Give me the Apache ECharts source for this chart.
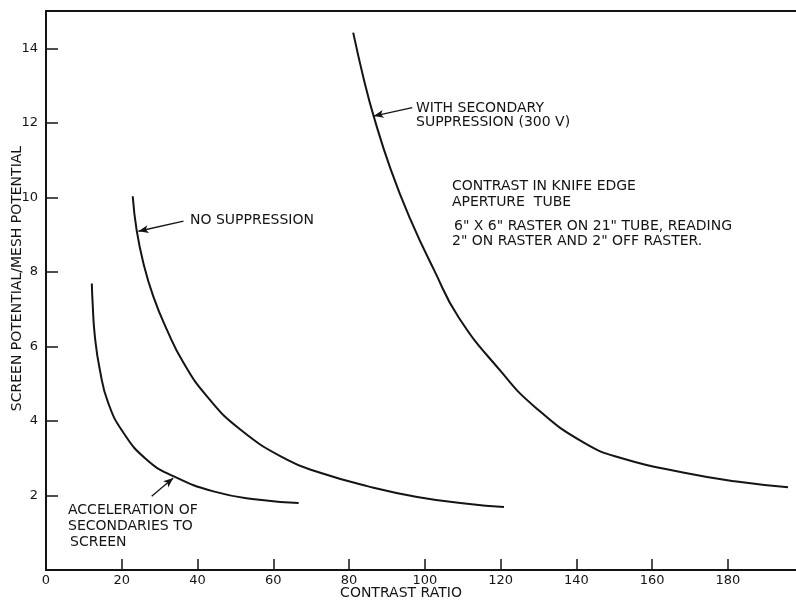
<!DOCTYPE html>
<html>
<head>
<meta charset="utf-8">
<script src="https://cdn.jsdelivr.net/npm/echarts@6/dist/echarts.min.js"></script>
<style>html,body{margin:0;padding:0;background:#fff}#c{width:796px;height:601px}</style>
</head>
<body>
<div id="c"></div>
<script>
// Data
const accelX = [12.1, 12.3, 12.9, 14.2, 16.4, 20.4, 26.6, 33.6, 44.2, 55.7, 66.7];
const accelY = [7.69, 7.18, 6.27, 5.38, 4.49, 3.69, 2.96, 2.52, 2.11, 1.89, 1.80];

const noSupX = [22.9, 23.9, 25.7, 28.3, 31.9, 36.3, 42.5, 51.3, 63.6, 72.4, 84.8, 98.0, 111.2, 120.9];
const noSupY = [10.03, 9.14, 8.24, 7.35, 6.45, 5.56, 4.66, 3.77, 2.96, 2.61, 2.25, 1.96, 1.78, 1.69];

const withSupX = [81.1, 83.9, 86.5, 91.0, 96.2, 102.4, 109.0, 120.1, 128.9, 142.1, 152.7, 168.5, 181.8, 195.9];
const withSupY = [14.42, 13.17, 12.18, 10.75, 9.41, 8.06, 6.77, 5.33, 4.39, 3.41, 2.98, 2.61, 2.38, 2.22];

// annotation arrows (data coords): [fromX, fromY, toX, toY]
const arrowWith = [96.7, 12.41, 86.5, 12.18];
const arrowNo = [36.3, 9.36, 24.4, 9.09];
const arrowAccel = [27.9, 1.98, 33.6, 2.47];

const xTitle = 'CONTRAST RATIO';
const yTitle = 'SCREEN POTENTIAL/MESH POTENTIAL';

const INK = '#141414';
const FONT = '"DejaVu Sans", sans-serif';

function pairs(xs, ys) { return xs.map((x, i) => [x, ys[i]]); }
function arrow(a) {
  return [{ coord: [a[0], a[1]], symbol: 'none' }, { coord: [a[2], a[3]], symbol: 'arrow' }];
}

const chart = echarts.init(document.getElementById('c'), null, { renderer: 'canvas' });

const lineStyle = { color: INK, width: 2 };
function curve(name, xs, ys, arr) {
  return {
    name, type: 'line', smooth: 0.5,
    showSymbol: false, data: pairs(xs, ys), lineStyle,
    markLine: { silent: true, symbolSize: [6, 10], lineStyle: { color: INK, width: 1.3, type: 'solid' },
      label: { show: false }, data: [arrow(arr)] }
  };
}

chart.setOption({
  animation: false,
  backgroundColor: '#fff',
  grid: { left: 46, right: 0, top: 11, bottom: 31, containLabel: false, outerBoundsMode: 'none' },
  xAxis: [{
    type: 'value', min: 0, max: 198, interval: 20,
    name: xTitle, nameLocation: 'middle', nameGap: 16, nameMoveOverlap: false,
    nameTextStyle: { color: INK, fontSize: 14, fontFamily: FONT, padding: [0, 40, 0, 0] },
    axisLine: { show: true, lineStyle: { color: INK, width: 2 } },
    axisTick: { show: true, inside: true, length: 11, lineStyle: { color: INK, width: 1.5 } },
    axisLabel: { color: INK, fontSize: 13, fontFamily: FONT, margin: 4, showMaxLabel: false,
      formatter: v => (v > 190 ? '' : String(v)) },
    splitLine: { show: false }
  }, {
    type: 'value', min: 0, max: 198, position: 'top',
    axisLine: { show: true, onZero: false, lineStyle: { color: INK, width: 2 } },
    axisTick: { show: false }, axisLabel: { show: false }, splitLine: { show: false }
  }],
  yAxis: {
    type: 'value', min: 0, max: 15, interval: 2,
    name: yTitle, nameLocation: 'middle', nameGap: 22, nameMoveOverlap: false,
    nameTextStyle: { color: INK, fontSize: 14, fontFamily: FONT, padding: [0, 0, 0, 24] },
    axisLine: { show: true, lineStyle: { color: INK, width: 2 } },
    axisTick: { show: true, inside: true, length: 12, lineStyle: { color: INK, width: 1.5 } },
    axisLabel: { color: INK, fontSize: 13, fontFamily: FONT, margin: 8, showMaxLabel: false,
      formatter: v => (v === 0 || v > 14 ? '' : String(v)) },
    splitLine: { show: false }
  },
  series: [
    curve('Acceleration of secondaries to screen', accelX, accelY, arrowAccel),
    curve('No suppression', noSupX, noSupY, arrowNo),
    curve('With secondary suppression', withSupX, withSupY, arrowWith)
  ],
  graphic: [
    ['WITH SECONDARY', 416, 108],
    ['SUPPRESSION (300 V)', 416, 122],
    ['CONTRAST IN KNIFE EDGE', 452, 186],
    ['APERTURE  TUBE', 452, 202],
    ['6" X 6" RASTER ON 21" TUBE, READING', 454, 226],
    ['2" ON RASTER AND 2" OFF RASTER.', 452, 241],
    ['NO SUPPRESSION', 190, 220],
    ['ACCELERATION OF', 68, 510],
    ['SECONDARIES TO', 68, 526],
    ['SCREEN', 70, 542]
  ].map(t => ({
    type: 'text', x: t[1], y: t[2], silent: true,
    style: { text: t[0], fill: INK, font: '14px ' + FONT, verticalAlign: 'middle', align: 'left' }
  }))
});
</script>
</body>
</html>
